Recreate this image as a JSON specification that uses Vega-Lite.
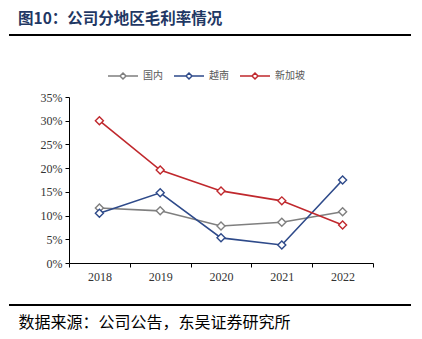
{
  "$schema": "https://vega.github.io/schema/vega-lite/v6.json",
  "width": 304,
  "height": 166,
  "autosize": "none",
  "padding": {"left": 69, "top": 97, "right": 49, "bottom": 76},
  "background": "white",
  "config": {"view": {"stroke": null}},
  "title": {
    "text": "图10：公司分地区毛利率情况",
    "anchor": "start",
    "frame": "group",
    "dx": -51,
    "offset": 7,
    "font": "Noto Sans CJK SC",
    "fontSize": 15.5,
    "fontWeight": "bold",
    "color": "#1f3864"
  },
  "data": {
    "values": [
      {"region": "国内", "year": 2018, "rate": 0.116},
      {"region": "国内", "year": 2019, "rate": 0.110},
      {"region": "国内", "year": 2020, "rate": 0.078},
      {"region": "国内", "year": 2021, "rate": 0.086},
      {"region": "国内", "year": 2022, "rate": 0.108},
      {"region": "越南", "year": 2018, "rate": 0.105},
      {"region": "越南", "year": 2019, "rate": 0.148},
      {"region": "越南", "year": 2020, "rate": 0.053},
      {"region": "越南", "year": 2021, "rate": 0.038},
      {"region": "越南", "year": 2022, "rate": 0.175},
      {"region": "新加坡", "year": 2018, "rate": 0.300},
      {"region": "新加坡", "year": 2019, "rate": 0.196},
      {"region": "新加坡", "year": 2020, "rate": 0.152},
      {"region": "新加坡", "year": 2021, "rate": 0.131},
      {"region": "新加坡", "year": 2022, "rate": 0.080}
    ]
  },
  "encoding": {
    "x": {
      "field": "year",
      "type": "quantitative",
      "scale": {"domain": [2017.5, 2022.5], "nice": false, "zero": false},
      "axis": {
        "values": [2017.5, 2018, 2018.5, 2019, 2019.5, 2020, 2020.5, 2021, 2021.5, 2022, 2022.5],
        "labelExpr": "datum.value % 1 == 0 ? '' + datum.value : ''",
        "tickOpacity": {"condition": {"test": "datum.value % 1 == 0", "value": 0}, "value": 1},
        "labelOverlap": false,
        "labelFlush": false,
        "grid": false,
        "domainColor": "#000000",
        "tickColor": "#000000",
        "tickSize": 4,
        "labelFont": "Liberation Serif",
        "labelFontSize": 12,
        "labelColor": "#333333",
        "labelPadding": 4,
        "title": "数据来源：公司公告，东吴证券研究所",
        "titleX": -51,
        "titleY": 59,
        "titleAlign": "left",
        "titleBaseline": "middle",
        "titleFont": "Noto Sans CJK SC",
        "titleFontSize": 16,
        "titleFontWeight": "normal",
        "titleColor": "#000000"
      }
    },
    "y": {
      "field": "rate",
      "type": "quantitative",
      "scale": {"domain": [0, 0.35], "nice": false},
      "axis": {
        "values": [0, 0.05, 0.1, 0.15, 0.2, 0.25, 0.3, 0.35],
        "format": ".0%",
        "grid": false,
        "domainColor": "#000000",
        "tickColor": "#000000",
        "tickSize": 4,
        "labelFont": "Liberation Serif",
        "labelFontSize": 12,
        "labelColor": "#333333",
        "labelPadding": 3,
        "title": null
      }
    },
    "color": {
      "field": "region",
      "type": "nominal",
      "scale": {"domain": ["国内", "越南", "新加坡"], "range": ["#7f7f7f", "#2e4a8a", "#c0282d"]},
      "legend": {
        "orient": "none",
        "legendX": 38,
        "legendY": -37,
        "direction": "horizontal",
        "title": null,
        "symbolType": "M-1,0L-0.2,0M0.2,0L1,0M0,-0.2L0.2,0L0,0.2L-0.2,0Z",
        "symbolSize": 900,
        "symbolStrokeWidth": 1.5,
        "symbolFillColor": "white",
        "labelFont": "Noto Sans CJK SC",
        "labelFontSize": 10,
        "labelColor": "#595959",
        "labelOffset": 4,
        "columnPadding": 8
      }
    }
  },
  "layer": [
    {"mark": {"type": "line", "strokeWidth": 1.6}},
    {"mark": {"type": "point", "shape": "diamond", "filled": false, "fill": "white", "fillOpacity": 1, "opacity": 1, "size": 64, "strokeWidth": 1.4}},
    {
      "data": {"values": [{}]},
      "mark": {"type": "rule", "stroke": "#000000", "strokeWidth": 2},
      "encoding": {"x": {"value": -60}, "x2": {"value": 342}, "y": {"value": -62}, "color": null}
    },
    {
      "data": {"values": [{}]},
      "mark": {"type": "rule", "stroke": "#000000", "strokeWidth": 2},
      "encoding": {"x": {"value": -60}, "x2": {"value": 342}, "y": {"value": 208}, "color": null}
    }
  ]
}
